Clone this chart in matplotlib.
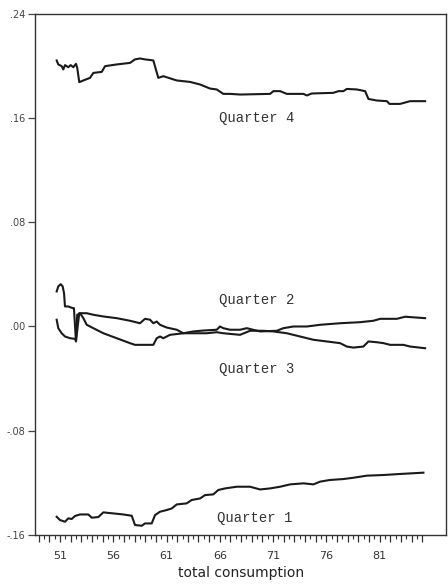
import numpy as np
import matplotlib
matplotlib.use('Agg')
import matplotlib.pyplot as plt
from matplotlib.ticker import FuncFormatter

# recursive seasonal estimates, digitized (year, value)
q4_years = [50.69, 50.84, 51.16, 51.31, 51.47, 51.78, 52.0, 52.25, 52.5, 52.62, 52.81,
            53.19, 53.82, 54.13, 54.92, 55.23, 56.32, 57.57, 58.04, 58.51, 58.98, 59.76,
            60.23, 60.70, 61.96, 63.21, 64.15, 65.08, 65.71, 66.33, 66.96, 67.90, 70.72,
            71.03, 71.66, 72.29, 73.85, 74.17, 74.63, 76.66, 77.13, 77.60, 77.92, 78.86,
            79.64, 79.95, 80.74, 81.68, 81.92, 82.92, 83.86, 85.27]
q4_vals = [0.2044, 0.2013, 0.2000, 0.1975, 0.2008, 0.1992, 0.2008, 0.1992, 0.2018, 0.1987, 0.1877,
           0.1890, 0.1910, 0.1948, 0.1956, 0.2000, 0.2013, 0.2025, 0.2052, 0.2059, 0.2052, 0.2044,
           0.1910, 0.1923, 0.1890, 0.1879, 0.1859, 0.1828, 0.1821, 0.1787, 0.1787, 0.1782, 0.1787,
           0.1808, 0.1808, 0.1787, 0.1787, 0.1775, 0.1790, 0.1795, 0.1808, 0.1808, 0.1825, 0.1821,
           0.1808, 0.1748, 0.1736, 0.1731, 0.1710, 0.1710, 0.1731, 0.1731]

q3_years = [50.69, 50.84, 51.07, 51.25, 51.38, 51.47, 51.78, 52.19, 52.31, 52.50, 52.81,
            53.51, 54.13, 55.07, 56.32, 57.57, 58.51, 58.98, 59.45, 59.76, 60.08, 60.39,
            61.02, 61.96, 62.58, 63.52, 64.77, 65.71, 66.33, 67.90, 68.84, 70.09, 71.03,
            72.29, 73.54, 74.78, 76.04, 77.29, 77.92, 78.54, 79.48, 79.95, 80.74, 81.36,
            81.99, 83.23, 83.86, 85.27]
q3_vals = [0.0269, 0.0308, 0.0325, 0.0308, 0.0256, 0.0154, 0.0154, 0.0141, 0.0141, -0.0115, 0.0102,
           0.0102, 0.0090, 0.0077, 0.0064, 0.0044, 0.0025, 0.0059, 0.0052, 0.0025, 0.0038, 0.0013,
           -0.0008, -0.0025, -0.0052, -0.0052, -0.0052, -0.0044, -0.0052, -0.0064, -0.0033, -0.0033, -0.0038,
           -0.0052, -0.0077, -0.0102, -0.0115, -0.0128, -0.0154, -0.0162, -0.0154, -0.0115, -0.0121, -0.0128,
           -0.0141, -0.0141, -0.0154, -0.0167]

q2_years = [50.69, 50.84, 51.16, 51.47, 51.94, 52.41, 52.50, 52.62, 52.88, 53.19, 53.51,
            54.13, 55.07, 56.32, 57.57, 58.04, 59.76, 60.08, 60.39, 60.70, 61.33, 62.58,
            63.52, 64.46, 65.71, 66.02, 66.33, 66.96, 67.90, 68.53, 69.78, 71.35, 71.97,
            72.91, 74.17, 75.41, 77.29, 79.17, 80.42, 81.05, 82.62, 83.39, 85.27]
q2_vals = [0.0052, -0.0013, -0.0052, -0.0077, -0.0090, -0.0095, -0.0110, 0.0090, 0.0102, 0.0064, 0.0013,
           -0.0013, -0.0052, -0.0090, -0.0128, -0.0141, -0.0141, -0.0090, -0.0077, -0.0090, -0.0064, -0.0052,
           -0.0038, -0.0031, -0.0025, 0.0000, -0.0013, -0.0025, -0.0025, -0.0013, -0.0038, -0.0033, -0.0013,
           0.0000, 0.0000, 0.0013, 0.0025, 0.0033, 0.0044, 0.0059, 0.0059, 0.0075, 0.0064]

q1_years = [50.69, 51.0, 51.47, 51.78, 52.10, 52.41, 52.88, 53.66, 53.98, 54.60, 55.07,
            56.0, 56.94, 57.73, 58.04, 58.67, 58.98, 59.61, 59.92, 60.39, 61.02, 61.49,
            61.96, 62.89, 63.36, 64.15, 64.62, 65.39, 65.86, 66.49, 67.59, 68.84, 69.78,
            70.72, 71.66, 72.60, 73.85, 74.79, 75.41, 76.35, 77.60, 78.54, 79.80, 81.36,
            82.92, 85.11]
q1_vals = [-0.1462, -0.1487, -0.1500, -0.1474, -0.1479, -0.1456, -0.1444, -0.1444, -0.1469, -0.1464, -0.1428,
           -0.1436, -0.1444, -0.1454, -0.1525, -0.1531, -0.1513, -0.1513, -0.1449, -0.1423, -0.1410, -0.1398,
           -0.1367, -0.1359, -0.1333, -0.1321, -0.1295, -0.1290, -0.1256, -0.1244, -0.1231, -0.1231, -0.1252,
           -0.1244, -0.1231, -0.1213, -0.1205, -0.1213, -0.1192, -0.1179, -0.1172, -0.1162, -0.1146, -0.1141,
           -0.1133, -0.1123]

series_names = ['Quarter 4', 'Quarter 2', 'Quarter 3', 'Quarter 1']
label_x = [69.5, 69.5, 69.5, 69.3]
label_y = [0.160, 0.020, -0.033, -0.1475]

x_tick_years = [51, 56, 61, 66, 71, 76, 81]
y_ticks = [-0.16, -0.08, 0.0, 0.08, 0.16, 0.24]
y_tick_labels = ['-.16', '-.08', '.00', '.08', '.16', '.24']

fig = plt.figure(figsize=(4.48, 5.87), dpi=100)
ax = fig.add_axes([0.078, 0.089, 0.918, 0.887])

for xs, ys in [(q4_years, q4_vals), (q3_years, q3_vals), (q2_years, q2_vals), (q1_years, q1_vals)]:
    ax.plot(xs, ys, color='#1a1a1a', linewidth=1.5)

for name, tx, ty in zip(series_names, label_x, label_y):
    ax.text(tx, ty, name, ha='center', va='center', fontsize=10,
            family='Liberation Mono', color='#333333')

ax.set_xlim(48.65, 87.25)
ax.set_ylim(-0.16, 0.24)

# year ticks long, half-year ticks short
ax.set_xticks(np.arange(49, 86, 1.0))
ax.set_xticks(np.arange(49.5, 85, 1.0), minor=True)
ax.xaxis.set_major_formatter(FuncFormatter(
    lambda v, p: str(int(round(v))) if int(round(v)) in x_tick_years else ''))
ax.tick_params(axis='x', which='major', length=5, width=0.9, labelsize=8, colors='#333333', pad=7)
ax.tick_params(axis='x', which='minor', length=3, width=0.8, colors='#333333')

ax.set_yticks(y_ticks)
ax.set_yticklabels(y_tick_labels)
ax.tick_params(axis='y', length=5, width=0.9, labelsize=7, colors='#444444', pad=2)

for s in ax.spines.values():
    s.set_color('#333333')
    s.set_linewidth(1.0)

ax.set_xlabel('total consumption', fontsize=10, color='#222222', labelpad=3)

fig.savefig('out.png', dpi=100)
